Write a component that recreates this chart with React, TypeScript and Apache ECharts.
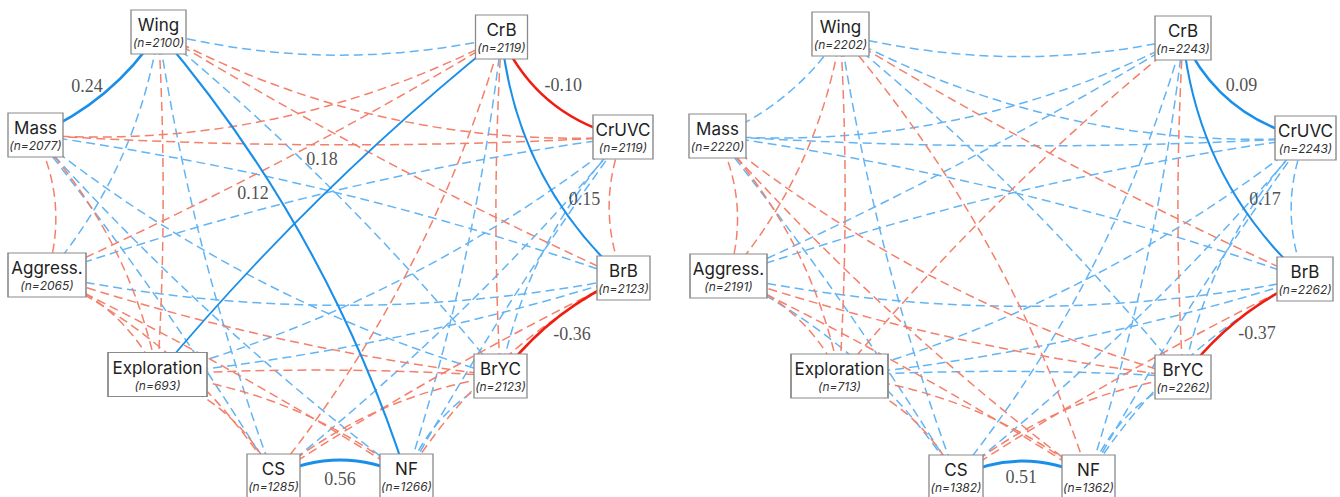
import React, { useEffect, useRef } from "react";
import * as echarts from "echarts";

// Nodes in counter-clockwise order around each network
const NODE_KEYS = ["Y", "B", "U", "C", "W", "M", "A", "E", "S", "N"];
const NODE_NAMES = ["BrYC", "BrB", "CrUVC", "CrB", "Wing", "Mass", "Aggress.", "Exploration", "CS", "NF"];
const N_LEFT = [2123, 2123, 2119, 2119, 2100, 2077, 2065, 693, 1285, 1266];
const N_RIGHT = [2262, 2262, 2243, 2243, 2202, 2220, 2191, 713, 1382, 1362];

// Non-significant correlations: positive (blue) and negative (red) pairs
const POS_LEFT = ["W-C", "W-Y", "W-S", "W-A", "C-N", "U-Y", "U-N", "U-S", "U-E", "U-A", "B-M", "B-E", "B-A", "Y-N", "Y-M", "N-M", "S-M"];
const NEG_LEFT = ["W-U", "W-B", "W-E", "C-Y", "C-S", "C-A", "C-M", "U-B", "U-M", "B-N", "B-S", "Y-E", "Y-S", "Y-A", "N-E", "N-A", "S-E", "S-A", "E-A", "E-M", "A-M"];
const SIG_LEFT: [string, number][] = [["W-M", 0.24], ["C-U", -0.1], ["C-E", 0.18], ["W-N", 0.12], ["C-B", 0.15], ["B-Y", -0.36], ["S-N", 0.56]];

const POS_RIGHT = ["W-C", "W-U", "W-Y", "W-S", "W-M", "C-N", "C-S", "C-A", "C-M", "U-B", "U-Y", "U-N", "U-S", "U-E", "U-A", "U-M", "B-N", "B-E", "B-A", "B-M", "Y-N", "Y-E", "S-A", "S-M"];
const NEG_RIGHT = ["W-B", "W-N", "W-E", "W-A", "C-Y", "C-E", "B-S", "Y-S", "Y-A", "Y-M", "N-E", "N-A", "N-M", "S-E", "E-A", "E-M", "A-M"];
const SIG_RIGHT: [string, number][] = [["C-U", 0.09], ["C-B", 0.17], ["B-Y", -0.37], ["S-N", 0.51]];

// ---- layout / style (pixel positions of node boxes, widths) ----
const LAYOUT_LEFT: Record<string, [number, number, number]> = {
  Y: [500.5, 376, 53], B: [623.5, 278, 53], U: [623, 137, 60], C: [501.5, 37, 52], W: [158.5, 32, 55],
  M: [35.5, 135, 55], A: [47, 275, 78], E: [157.5, 374.5, 99], S: [273.5, 476, 53], N: [406.5, 476, 53],
};
const LAYOUT_RIGHT: Record<string, [number, number, number]> = {
  Y: [1183, 377, 56], B: [1305, 279, 56], U: [1305.5, 138, 61], C: [1183, 38, 56], W: [840.5, 34, 57],
  M: [717.5, 136, 57], A: [728.5, 276, 77], E: [839.5, 376, 97], S: [956, 477, 54], N: [1088.5, 477, 53],
};
const LABEL_OFFSET_LEFT: Record<string, [number, number]> = {
  "W-M": [-10, 2], "C-U": [1, -2], "C-E": [-7.5, -47], "W-N": [-29.5, -61], "C-B": [22, 41.5], "B-Y": [10, 7], "S-N": [0, 3],
};
const LABEL_OFFSET_RIGHT: Record<string, [number, number]> = {
  "C-U": [-2.75, -3.5], "C-B": [21, 40.5], "B-Y": [13, 5], "S-N": [-1, 0],
};
const SOLID_WIDTH: Record<string, number> = {
  "W-M": 2.6, "C-U": 2.6, "C-E": 1.8, "W-N": 2.1, "C-B": 2.1, "B-Y": 2.5, "S-N": 3.0,
};
// curvature for the drawn arcs (by ring separation, plus a few specific arcs)
const CURVE_BY_SEP: Record<number, number> = { 1: 0.2, 2: 0.14, 3: 0.03, 4: -0.05 };
const CURVE_DIAMETER = 0.1;
const CURVE_OVERRIDE: Record<string, number> = {
  "C-B": 0.19, "C-U": 0.24, "S-N": 0.24, "W-M": 0.15, "B-Y": 0.13, "W-C": 0.12,
};

const BLUE_DASH = "#62B4F5";
const RED_DASH = "#F47F6A";
const BLUE_SOLID = "#1A8FEA";
const RED_SOLID = "#F01E10";
const BOX_H = 44;

function curveInfo(k1: string, k2: string) {
  const i = NODE_KEYS.indexOf(k1);
  const j = NODE_KEYS.indexOf(k2);
  const a = Math.min(i, j);
  const b = Math.max(i, j);
  const d = b - a;
  if (d === 5) return { src: a, tgt: b, c: CURVE_DIAMETER };
  let s: number, src: number, tgt: number;
  if (d < 5) { s = d; src = a; tgt = b; } else { s = 10 - d; src = b; tgt = a; }
  const key1 = k1 + "-" + k2;
  const key2 = k2 + "-" + k1;
  const ov = CURVE_OVERRIDE[key1] ?? CURVE_OVERRIDE[key2];
  return { src, tgt, c: ov !== undefined ? ov : CURVE_BY_SEP[s] };
}

function buildPanel(prefix: string, layout: Record<string, [number, number, number]>, counts: number[],
  pos: string[], neg: string[], sig: [string, number][], labelOffsets: Record<string, [number, number]>) {
  const nodes = NODE_KEYS.map((k, i) => ({
    name: prefix + k,
    value: [layout[k][0], layout[k][1]],
    symbolSize: [layout[k][2], BOX_H],
    label: { formatter: `{a|${NODE_NAMES[i]}}\n{b|(n=${counts[i]})}` },
  }));
  const mk = (pair: string, color: string, width: number, dashed: boolean) => {
    const [k1, k2] = pair.split("-");
    const ci = curveInfo(k1, k2);
    return {
      source: prefix + NODE_KEYS[ci.src],
      target: prefix + NODE_KEYS[ci.tgt],
      lineStyle: { color, width, type: dashed ? [9, 5] : "solid", curveness: ci.c, opacity: 1 },
    };
  };
  const edges: any[] = [];
  pos.forEach((p) => edges.push(mk(p, BLUE_DASH, 1.5, true)));
  neg.forEach((p) => edges.push(mk(p, RED_DASH, 1.5, true)));
  sig.forEach(([p, v]) => edges.push(mk(p, v > 0 ? BLUE_SOLID : RED_SOLID, SOLID_WIDTH[p] || 2.2, false)));
  const labels = sig.map(([p, v]) => {
    const [k1, k2] = p.split("-");
    const mx = (layout[k1][0] + layout[k2][0]) / 2;
    const my = (layout[k1][1] + layout[k2][1]) / 2;
    const off = labelOffsets[p] || [0, 0];
    return { value: [mx + off[0], my + off[1]], label: { formatter: v.toFixed(2) } };
  });
  return { nodes, edges, labels };
}

export default function App() {
  const ref = useRef<HTMLDivElement>(null);
  useEffect(() => {
    if (!ref.current) return;
    const chart = echarts.init(ref.current, undefined, { renderer: "svg" });
    const left = buildPanel("L_", LAYOUT_LEFT, N_LEFT, POS_LEFT, NEG_LEFT, SIG_LEFT, LABEL_OFFSET_LEFT);
    const right = buildPanel("R_", LAYOUT_RIGHT, N_RIGHT, POS_RIGHT, NEG_RIGHT, SIG_RIGHT, LABEL_OFFSET_RIGHT);
    const nodeLabel = {
      show: true,
      position: "inside",
      rich: {
        a: { fontFamily: "Inter, Roboto, sans-serif", fontSize: 17, color: "#222", lineHeight: 21, padding: [2, 0, 0, 0] },
        b: { fontFamily: "Inter, Roboto, sans-serif", fontSize: 12, fontStyle: "italic", color: "#333", lineHeight: 16 },
      },
    };
    const graphSeries = (p: any) => ({
      type: "graph",
      coordinateSystem: "cartesian2d",
      silent: true,
      symbol: "rect",
      data: p.nodes,
      edges: p.edges,
      itemStyle: { color: "#ffffff", borderColor: "#8a8a8a", borderWidth: 1.2 },
      label: nodeLabel,
      edgeSymbol: ["none", "none"],
      emphasis: { disabled: true },
      z: 2,
    });
    const labelSeries = (p: any) => ({
      type: "scatter",
      silent: true,
      symbolSize: 0,
      data: p.labels,
      label: {
        show: true,
        position: "inside",
        fontFamily: "Liberation Serif, Times New Roman, serif",
        fontSize: 18,
        color: "#222",
      },
      z: 5,
    });
    chart.setOption({
      animation: false,
      grid: { left: 0, right: 0, top: 0, bottom: 0 },
      xAxis: { type: "value", min: 0, max: 1340, show: false },
      yAxis: { type: "value", min: 0, max: 497, inverse: true, show: false },
      series: [graphSeries(left), graphSeries(right), labelSeries(left), labelSeries(right)],
    });
    return () => chart.dispose();
  }, []);
  return (
    <div
      ref={ref}
      style={{ position: "absolute", left: 0, top: 0, width: 1340, height: 497, background: "#fff" }}
    />
  );
}
